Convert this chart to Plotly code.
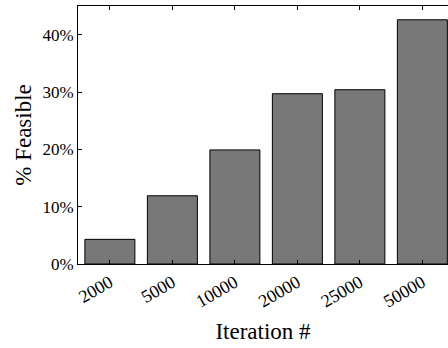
import plotly.graph_objects as go

categories = ["2000", "5000", "10000", "20000", "25000", "50000"]
feasible_pct = [4.3, 11.9, 19.9, 29.7, 30.4, 42.6]

FONT = "Liberation Serif"

fig = go.Figure(
    go.Bar(
        x=list(range(len(categories))),
        y=feasible_pct,
        width=0.8,
        marker=dict(color="#787878", line=dict(color="black", width=1)),
    )
)

fig.update_layout(
    width=448,
    height=348,
    margin=dict(l=78, r=0, t=6, b=84),
    plot_bgcolor="white",
    paper_bgcolor="white",
    showlegend=False,
    font=dict(family=FONT, color="black", size=14),
)

fig.update_xaxes(
    automargin=False,
    range=[-0.51, 5.41],
    tickmode="array",
    tickvals=list(range(len(categories))),
    ticktext=categories,
    tickangle=-30,
    ticks="inside",
    ticklen=4,
    tickcolor="black",
    showline=True,
    linecolor="black",
    linewidth=1,
    mirror="ticks",
    showgrid=False,
    zeroline=False,
    tickfont=dict(family=FONT, size=18),
    title=dict(text="Iteration #", font=dict(family=FONT, size=23), standoff=12),
)

fig.update_yaxes(
    automargin=False,
    range=[0, 45],
    tickvals=[0, 10, 20, 30, 40],
    ticktext=["0%", "10%", "20%", "30%", "40%"],
    ticks="inside",
    ticklen=4,
    tickcolor="black",
    showline=True,
    linecolor="black",
    linewidth=1,
    mirror=False,
    showgrid=False,
    zeroline=False,
    tickfont=dict(family=FONT, size=17),
    title=dict(text="% Feasible", font=dict(family=FONT, size=23), standoff=4),
)

fig.write_html(
    "out.html",
    config={"displayModeBar": False},
    post_script="document.body.style.margin='0';",
)
